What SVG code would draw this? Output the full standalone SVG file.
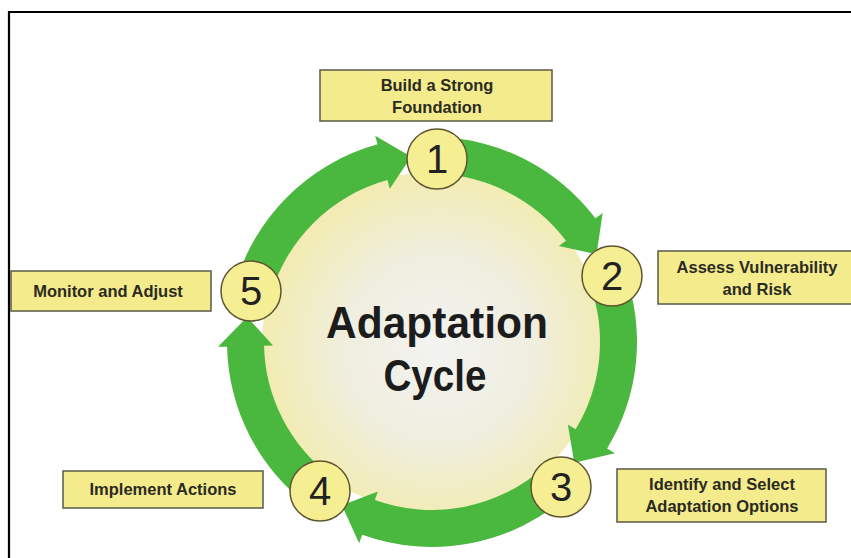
<svg xmlns="http://www.w3.org/2000/svg" width="851" height="558" viewBox="0 0 851 558">
<style>
.box{fill:#f4ec8c;stroke:#5a5848;stroke-width:1.5}
.lbl{font-family:"Liberation Sans",Arial,sans-serif;font-weight:bold;font-size:16.5px;fill:#2b2a22;text-anchor:middle}
.step{fill:#f5ee93;stroke:#5e5530;stroke-width:1.5}
.num{font-family:"Liberation Sans",Arial,sans-serif;font-size:40px;fill:#222;text-anchor:middle}
.arrow{fill:#4ab83f}
.title{font-family:"Liberation Sans",Arial,sans-serif;font-weight:bold;font-size:44px;fill:#1c1c1c;text-anchor:middle}
</style>
<defs>
<radialGradient id="core" cx="0.52" cy="0.52" r="0.5">
<stop offset="0" stop-color="#f3f3f1"/>
<stop offset="0.55" stop-color="#efeedf"/>
<stop offset="1" stop-color="#f2ecb4"/>
</radialGradient>
</defs>
<rect x="0" y="0" width="851" height="558" fill="#ffffff"/>
<path d="M9,558 V12 H851" fill="none" stroke="#000" stroke-width="2.2"/>
<circle cx="432" cy="342" r="170" fill="url(#core)"/>
<g id="connectors">
<path class="arrow" d="M234.65,286.53 A205,205 0 0 1 377.55,144.36 L375.16,135.68 L411.21,156.66 L389.77,188.71 L387.38,180.03 A168,168 0 0 0 270.27,296.54 Z"/>
<path class="arrow" d="M437.72,137.08 A205,205 0 0 1 595.51,218.34 L602.69,212.92 L596.51,254.16 L558.82,246.09 L566,240.66 A168,168 0 0 0 436.69,174.07 Z"/>
<path class="arrow" d="M624.52,271.54 A205,205 0 0 1 607.17,448.5 L614.86,453.17 L574.24,462.63 L567.87,424.6 L575.56,429.28 A168,168 0 0 0 589.77,284.26 Z"/>
<path class="arrow" d="M568.37,495.05 A205,205 0 0 1 362.22,534.76 L359.15,543.22 L341.86,505.28 L377.88,491.51 L374.81,499.97 A168,168 0 0 0 543.75,467.43 Z"/>
<path class="arrow" d="M308.92,505.94 A205,205 0 0 1 227.06,346.65 L218.06,346.86 L247.18,317.01 L273.05,345.61 L264.05,345.81 A168,168 0 0 0 331.13,476.35 Z"/>
</g>
<g id="title">
<text class="title" x="437" y="338" textLength="222" lengthAdjust="spacingAndGlyphs">Adaptation</text>
<text class="title" x="435" y="391" textLength="103" lengthAdjust="spacingAndGlyphs">Cycle</text>
</g>
<g id="step1">
<circle class="step" cx="437" cy="159" r="30"/>
<text class="num" x="437" y="173">1</text>
<rect class="box" x="320" y="70" width="232" height="51"/>
<text class="lbl" x="437" y="91">Build a Strong</text>
<text class="lbl" x="437" y="113">Foundation</text>
</g>
<g id="step2">
<circle class="step" cx="612" cy="276" r="30"/>
<text class="num" x="612" y="290">2</text>
<rect class="box" x="658" y="251" width="196" height="53"/>
<text class="lbl" x="757" y="273">Assess Vulnerability</text>
<text class="lbl" x="757" y="295">and Risk</text>
</g>
<g id="step3">
<circle class="step" cx="561" cy="487" r="30"/>
<text class="num" x="561" y="501">3</text>
<rect class="box" x="617" y="469" width="209" height="53"/>
<text class="lbl" x="722" y="490">Identify and Select</text>
<text class="lbl" x="722" y="512">Adaptation Options</text>
</g>
<g id="step4">
<circle class="step" cx="320" cy="491" r="30"/>
<text class="num" x="320" y="505">4</text>
<rect class="box" x="63" y="471" width="200" height="37"/>
<text class="lbl" x="163" y="495">Implement Actions</text>
</g>
<g id="step5">
<circle class="step" cx="251" cy="291" r="30"/>
<text class="num" x="251" y="305">5</text>
<rect class="box" x="11" y="271" width="200" height="40"/>
<text class="lbl" x="108" y="297">Monitor and Adjust</text>
</g>
</svg>
